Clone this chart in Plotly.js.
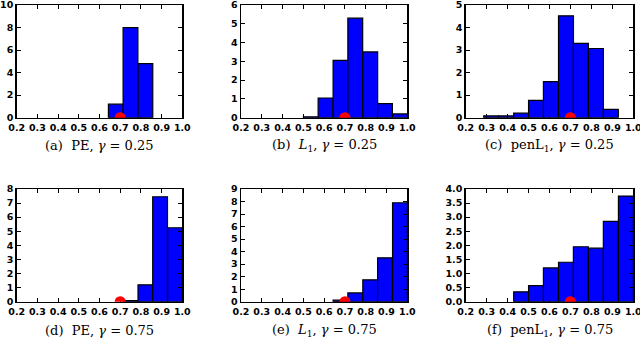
<!DOCTYPE html>
<html>
<head>
<meta charset="utf-8">
<script src="https://cdn.plot.ly/plotly-3.0.1.min.js"></script>
<style>
  body { margin: 0; background: #fff; }
  #chart { width: 640px; height: 338px; }
</style>
</head>
<body>
<div id="chart"></div>
<script>
// bin left edges (width 1/14) and heights
const binWidth = 0.0714;

const peLowEdges   = [0.643, 0.714, 0.786];
const peLowCounts  = [1.2, 8.0, 4.8];

const l1LowEdges   = [0.500, 0.571, 0.643, 0.714, 0.786, 0.857, 0.929];
const l1LowCounts  = [0.05, 1.05, 3.05, 5.3, 3.5, 0.75, 0.2];

const penLowEdges  = [0.286, 0.357, 0.429, 0.500, 0.571, 0.643, 0.714, 0.786, 0.857];
const penLowCounts = [0.08, 0.08, 0.2, 0.77, 1.6, 4.52, 3.3, 3.07, 0.37];

const peHighEdges   = [0.714, 0.786, 0.857, 0.929];
const peHighCounts  = [0.08, 1.2, 7.45, 5.25];

const l1HighEdges   = [0.643, 0.714, 0.786, 0.857, 0.929];
const l1HighCounts  = [0.12, 0.7, 1.75, 3.5, 7.9];

const penHighEdges  = [0.429, 0.500, 0.571, 0.643, 0.714, 0.786, 0.857, 0.929];
const penHighCounts = [0.35, 0.57, 1.2, 1.4, 1.95, 1.9, 2.85, 3.75];

const trueValue = [0.7];
const trueLevel = [0];

const captions = [
  '(a)  PE, <i>γ</i> = 0.25',
  '(b)  <i>L</i><sub>1</sub>, <i>γ</i> = 0.25',
  '(c)  penL<sub>1</sub>, <i>γ</i> = 0.25',
  '(d)  PE, <i>γ</i> = 0.75',
  '(e)  <i>L</i><sub>1</sub>, <i>γ</i> = 0.75',
  '(f)  penL<sub>1</sub>, <i>γ</i> = 0.75'
];
const xTicks = [0.2, 0.3, 0.4, 0.5, 0.6, 0.7, 0.8, 0.9, 1.0];

const panels = [
  { edges: peLowEdges,   counts: peLowCounts,   ymax: 10, dtick: 2,   fmt: 'd' },
  { edges: l1LowEdges,   counts: l1LowCounts,   ymax: 6,  dtick: 1,   fmt: 'd' },
  { edges: penLowEdges,  counts: penLowCounts,  ymax: 5,  dtick: 1,   fmt: 'd' },
  { edges: peHighEdges,  counts: peHighCounts,  ymax: 8,  dtick: 1,   fmt: 'd' },
  { edges: l1HighEdges,  counts: l1HighCounts,  ymax: 9,  dtick: 1,   fmt: 'd' },
  { edges: penHighEdges, counts: penHighCounts, ymax: 4,  dtick: 0.5, fmt: '.1f' }
];

// plot-area boxes in pixels
const colX = [[16.7, 182.3], [241, 407.3], [465.7, 633.3]];
const rowY = [[5, 117.7], [189, 301.7]];
const captionY = [145, 330];
const W = 640, H = 338;

const tickFont = { family: 'DejaVu Sans', size: 9.5, color: '#000', weight: 'bold' };

const traces = [];
const layout = {
  width: W, height: H,
  margin: { l: 0, r: 0, t: 0, b: 0 },
  paper_bgcolor: '#fff', plot_bgcolor: '#fff',
  showlegend: false,
  bargap: 0,
  annotations: []
};

panels.forEach((p, i) => {
  const n = i === 0 ? '' : String(i + 1);
  const col = i % 3, row = Math.floor(i / 3);
  traces.push({
    type: 'bar', x: p.edges, y: p.counts,
    width: binWidth, offset: 0,
    xaxis: 'x' + n, yaxis: 'y' + n,
    marker: { color: '#0000ff', line: { color: '#000', width: 1.2 } },
    hoverinfo: 'skip'
  });
  traces.push({
    type: 'scatter', mode: 'markers', x: trueValue, y: trueLevel,
    xaxis: 'x' + n, yaxis: 'y' + n,
    marker: { color: '#ff0000', size: 11, line: { width: 0 } },
    cliponaxis: true, hoverinfo: 'skip'
  });
  layout['xaxis' + n] = {
    domain: [colX[col][0] / W, colX[col][1] / W],
    anchor: 'y' + n,
    range: [0.2, 1.0],
    tickvals: xTicks, tickformat: '.1f',
    ticks: 'inside', ticklen: 4, tickwidth: 1, tickcolor: '#000',
    showline: true, linecolor: '#000', linewidth: 1.5, mirror: 'ticks',
    showgrid: false, zeroline: false,
    layer: 'below traces',
    ticklabeloverflow: 'allow',
    tickfont: tickFont
  };
  layout['yaxis' + n] = {
    domain: [1 - rowY[row][1] / H, 1 - rowY[row][0] / H],
    anchor: 'x' + n,
    range: [0, p.ymax],
    dtick: p.dtick, tick0: 0, tickformat: p.fmt,
    ticks: 'inside', ticklen: 4, tickwidth: 1, tickcolor: '#000',
    showline: true, linecolor: '#000', linewidth: 1.5, mirror: 'ticks',
    showgrid: false, zeroline: false,
    ticklabeloverflow: 'allow',
    tickfont: tickFont
  };
  layout.annotations.push({
    text: captions[i], xref: 'paper', yref: 'paper',
    x: (colX[col][0] + colX[col][1]) / 2 / W, y: 1 - captionY[row] / H,
    xanchor: 'center', yanchor: 'middle', showarrow: false,
    font: { family: 'DejaVu Serif', size: 13, color: '#000' }
  });
});

Plotly.newPlot('chart', traces, layout, { displayModeBar: false, staticPlot: true });
</script>
</body>
</html>
